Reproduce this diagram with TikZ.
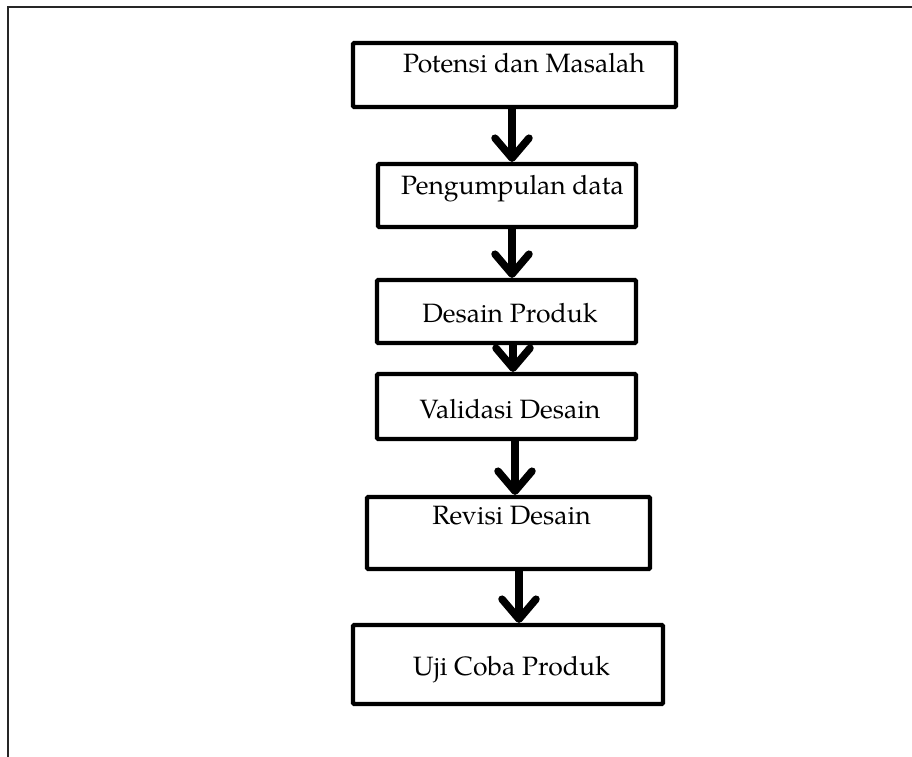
\documentclass[tikz,border=0pt]{standalone}
\usepackage{fontspec}
\setmainfont{TeX Gyre Pagella}
\usetikzlibrary{arrows.meta}
\begin{document}
\begin{tikzpicture}[x=1pt,y=-1pt,
  stagebox/.style={draw=black,line width=4.2pt,rounded corners=1pt,inner sep=0pt},
  stagetext/.style={anchor=base,inner sep=0pt,font=\fontsize{26.5}{30}\selectfont},
  flowarrow/.style={line width=7.5pt,-{Straight Barb[length=20pt,width=34pt,round]}},
  frameline/.style={line width=2pt,draw=black!85}]
\useasboundingbox (0,0) rectangle (912,756);
\fill[white] (0,0) rectangle (912,756);
% frame
\coordinate (fa) at (8,760);
\coordinate (fb) at (8,7);
\coordinate (fc) at (912,7);
\draw[frameline] (fa) -- (fb) -- (fc);
% boxes
\node[stagebox,minimum width=323pt,minimum height=64pt] (b1) at (514.5,75) {};
\node[stagebox,minimum width=258pt,minimum height=63pt] (b2) at (507,195.5) {};
\node[stagebox,minimum width=259pt,minimum height=63pt] (b3) at (506.5,311.5) {};
\node[stagebox,minimum width=259pt,minimum height=65pt] (b4) at (506.5,406.5) {};
\node[stagebox,minimum width=283pt,minimum height=72pt] (b5) at (508.5,533) {};
\node[stagebox,minimum width=310pt,minimum height=79pt] (b6) at (508,664.5) {};
% texts
\node[stagetext] (t1) at (524,72) {Potensi dan Masalah};
\node[stagetext] (t2) at (512.5,194) {Pengumpulan data};
\node[stagetext] (t3) at (510,322) {Desain Produk};
\node[stagetext] (t4) at (510,418) {Validasi Desain};
\node[stagetext] (t5) at (511.5,524) {Revisi Desain};
\node[stagetext] (t6) at (511.5,675) {Uji Coba Produk};
% arrows
\draw[flowarrow] (512,0 |- b1.south) -- (512,0 |- b2.north);
\draw[flowarrow] (512,0 |- b2.south) -- (512,0 |- b3.north);
\draw[flowarrow] (513,0 |- b3.south) -- (513,0 |- b4.north);
\draw[flowarrow] (515,0 |- b4.south) -- (515,0 |- b5.north);
\draw[flowarrow] (519,0 |- b5.south) -- (519,0 |- b6.north);
\end{tikzpicture}
\end{document}
